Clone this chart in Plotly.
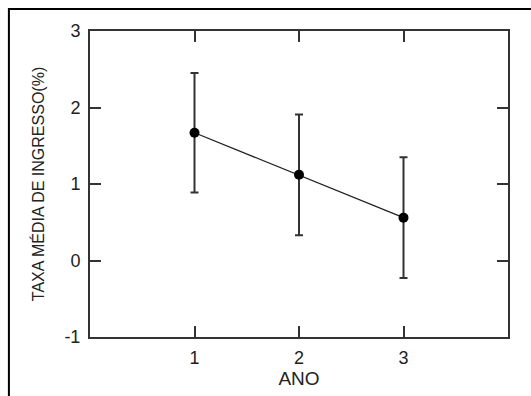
import plotly.graph_objects as go

anos = [1, 2, 3]
taxa_media = [1.67, 1.12, 0.56]
erro = [0.78, 0.79, 0.79]
x_ticks = [1, 2, 3]
y_ticks = [-1, 0, 1, 2, 3]
y_tick_text = ["-1", "0", "1", "2", "3"]

fig = go.Figure()
fig.add_trace(go.Scatter(
    x=anos, y=taxa_media, mode="lines+markers",
    line=dict(color="#222222", width=1.3),
    marker=dict(color="black", size=10),
    error_y=dict(type="data", array=erro, visible=True, color="#333333", thickness=2, width=4),
    showlegend=False,
))

font_name = "Liberation Sans, Arial"
axis_common = dict(
    showline=True, linecolor="#333333", linewidth=2, mirror="ticks",
    ticks="inside", ticklen=11, tickwidth=2, tickcolor="#333333",
    showgrid=False, zeroline=False,
    tickfont=dict(family=font_name, size=18, color="#222222"),
)

fig.update_xaxes(range=[0, 4], tickvals=x_ticks, title_text="ANO",
                 title_font=dict(family=font_name, size=19, color="#222222"),
                 title_standoff=1, ticklabelstandoff=3, **axis_common)
fig.update_yaxes(range=[-1, 3], tickvals=y_ticks, ticktext=y_tick_text,
                 title_text="TAXA MÉDIA DE INGRESSO(%)",
                 title_font=dict(family=font_name, size=16, color="#222222"),
                 title_standoff=16, ticklabelstandoff=4, **axis_common)

fig.add_shape(type="rect", xref="paper", yref="paper",
              x0=-0.194, x1=1.2, y0=-0.3, y1=1.072,
              line=dict(color="black", width=2), layer="below")

fig.update_layout(
    width=531, height=396,
    margin=dict(l=90, r=23, t=31, b=59),
    plot_bgcolor="white", paper_bgcolor="white",
)

fig.write_html("out.html")
